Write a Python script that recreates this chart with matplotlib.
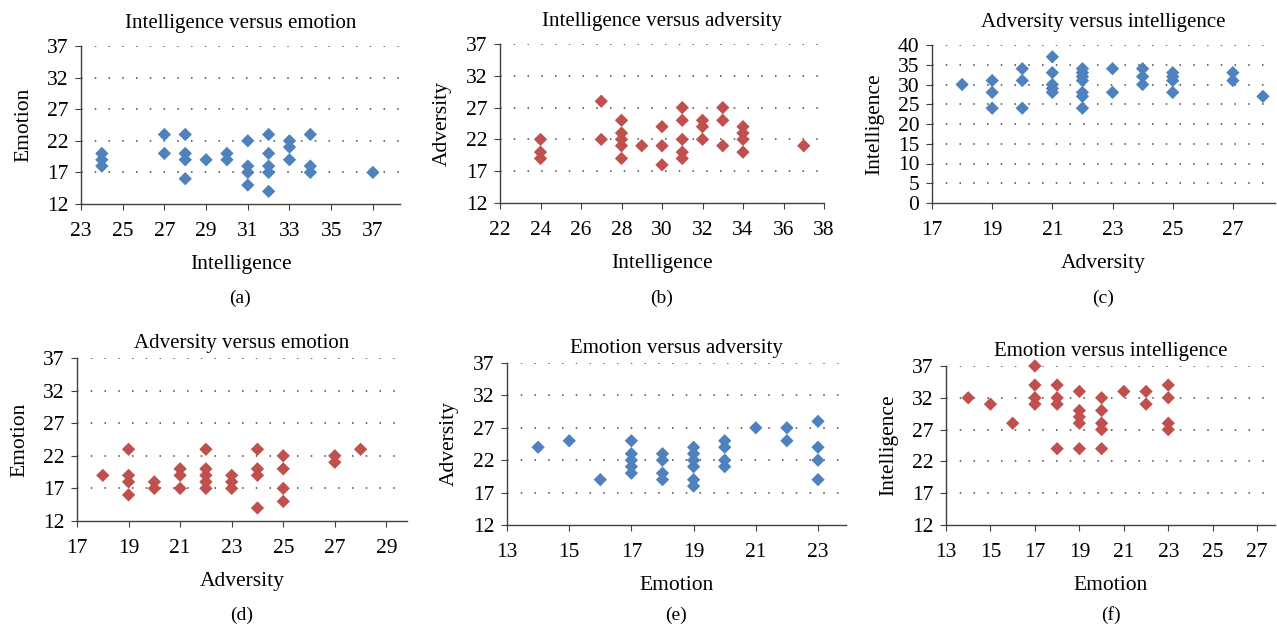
import matplotlib
matplotlib.use("Agg")
import matplotlib.pyplot as plt

plt.rcParams["font.family"] = ["Liberation Serif", "DejaVu Serif"]

BLUE = "#4F81BD"
RED = "#C0504D"

# (a) Intelligence versus emotion
a_x = [24, 24, 24, 27, 27, 28, 28, 28, 28, 29, 30, 30, 31, 31, 31, 31,
       32, 32, 32, 32, 32, 33, 33, 33, 34, 34, 34, 37]
a_y = [20, 19, 18, 23, 20, 23, 20, 19, 16, 19, 20, 19, 22, 18, 17, 15,
       23, 20, 18, 17, 14, 22, 21, 19, 23, 18, 17, 17]

# (b) Intelligence versus adversity
b_x = [24, 24, 24, 27, 27, 28, 28, 28, 28, 28, 29, 30, 30, 30,
       31, 31, 31, 31, 31, 32, 32, 32, 33, 33, 33, 34, 34, 34, 34, 37]
b_y = [22, 20, 19, 28, 22, 25, 23, 22, 21, 19, 21, 24, 21, 18,
       27, 25, 22, 20, 19, 25, 24, 22, 27, 25, 21, 24, 23, 22, 20, 21]

# (c) Adversity versus intelligence
c_x = [18, 19, 19, 19, 20, 20, 20, 21, 21, 21, 21, 21,
       22, 22, 22, 22, 22, 22, 22, 23, 23, 24, 24, 24,
       25, 25, 25, 25, 27, 27, 28]
c_y = [30, 31, 28, 24, 34, 31, 24, 37, 33, 30, 29, 28,
       34, 33, 32, 31, 28, 27, 24, 34, 28, 34, 32, 30,
       33, 32, 31, 28, 33, 31, 27]

# (d) Adversity versus emotion
d_x = [18, 19, 19, 19, 19, 20, 20, 21, 21, 21, 22, 22, 22, 22, 22,
       23, 23, 23, 24, 24, 24, 24, 25, 25, 25, 25, 27, 27, 28]
d_y = [19, 23, 19, 18, 16, 18, 17, 20, 19, 17, 23, 20, 19, 18, 17,
       19, 18, 17, 23, 20, 19, 14, 22, 20, 17, 15, 22, 21, 23]

# (e) Emotion versus adversity
e_x = [14, 15, 16, 17, 17, 17, 17, 17, 18, 18, 18, 18,
       19, 19, 19, 19, 19, 19, 20, 20, 20, 20, 21, 22, 22, 23, 23, 23, 23]
e_y = [24, 25, 19, 25, 23, 22, 21, 20, 23, 22, 20, 19,
       24, 23, 22, 21, 19, 18, 25, 24, 22, 21, 27, 27, 25, 28, 24, 22, 19]

# (f) Emotion versus intelligence
f_x = [14, 15, 16, 17, 17, 17, 17, 18, 18, 18, 18, 19, 19, 19, 19, 19,
       20, 20, 20, 20, 20, 21, 22, 22, 23, 23, 23, 23]
f_y = [32, 31, 28, 37, 34, 32, 31, 34, 32, 31, 24, 33, 30, 29, 28, 24,
       32, 30, 28, 27, 24, 33, 33, 31, 34, 32, 28, 27]

W, H = 1277, 635

panels = [
    # data, colour, title, xlabel, ylabel, box (l, r, t, b px), xlim, xticks, ylim, yticks, caption
    (a_x, a_y, BLUE, "Intelligence versus emotion", "Intelligence", "Emotion",
     (81, 400, 46, 204), (23, 38.3), range(23, 38, 2), (12, 37), range(12, 38, 5), "(a)"),
    (b_x, b_y, RED, "Intelligence versus adversity", "Intelligence", "Adversity",
     (500, 824, 44, 203), (22, 38), range(22, 39, 2), (12, 37), range(12, 38, 5), "(b)"),
    (c_x, c_y, BLUE, "Adversity versus intelligence", "Adversity", "Intelligence",
     (932, 1275, 45, 203), (17, 28.4), range(17, 28, 2), (0, 40), range(0, 41, 5), "(c)"),
    (d_x, d_y, RED, "Adversity versus emotion", "Adversity", "Emotion",
     (77, 407, 358, 521), (17, 29.8), range(17, 30, 2), (12, 37), range(12, 38, 5), "(d)"),
    (e_x, e_y, BLUE, "Emotion versus adversity", "Emotion", "Adversity",
     (507, 846, 363, 525), (13, 23.9), range(13, 24, 2), (12, 37), range(12, 38, 5), "(e)"),
    (f_x, f_y, RED, "Emotion versus intelligence", "Emotion", "Intelligence",
     (946, 1275, 366, 525), (13, 27.8), range(13, 28, 2), (12, 37), range(12, 38, 5), "(f)"),
]

fig = plt.figure(figsize=(W / 100, H / 100), dpi=100)

for xs, ys, col, title, xl, yl, box, xlim, xt, ylim, yt, cap in panels:
    l, r, t, b = box
    top_row = b < 300
    ax = fig.add_axes([l / W, 1 - b / H, (r - l) / W, (b - t) / H])
    ax.scatter(xs, ys, marker="D", s=46, color=col, edgecolors="none", zorder=3, clip_on=False)
    ax.set_xlim(*xlim)
    ax.set_ylim(*ylim)
    ax.set_xticks(list(xt))
    ax.set_yticks(list(yt))
    for y in yt:
        if y != ylim[0]:
            ax.axhline(y, color="#444444", linestyle=(0, (1, 8)), linewidth=1.1, zorder=1)
    for s in ("top", "right"):
        ax.spines[s].set_visible(False)
    for s in ("left", "bottom"):
        ax.spines[s].set_color("#404040")
        ax.spines[s].set_linewidth(1.0)
    ax.tick_params(direction="out", length=4, color="#404040", labelsize=15.5)
    ax.tick_params(axis="x", pad=9)
    ax.tick_params(axis="y", pad=5)
    ax.set_title(title, fontsize=15, pad=13 if top_row else 7)
    ax.set_xlabel(xl, fontsize=15.5, labelpad=10)
    ax.set_ylabel(yl, fontsize=15.5, labelpad=10)
    cx = (l + r) / 2 / W
    cy = 1 - (298 if top_row else 615) / H
    fig.text(cx, cy, cap, ha="center", va="center", fontsize=14)

fig.savefig("out.png", dpi=100)
